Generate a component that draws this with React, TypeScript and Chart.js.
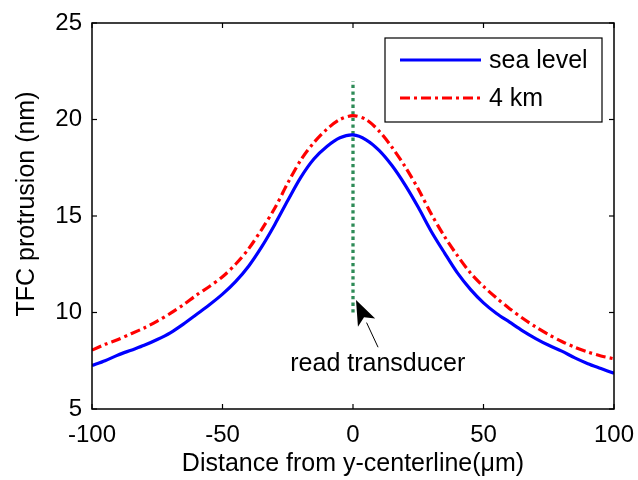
import React, { useEffect, useRef } from "react";
import { Chart, registerables } from "chart.js";

Chart.register(...registerables);

// ---- data ----
const xValues = [
  -100, -95, -90, -85, -80, -75, -70, -65, -60, -55, -50, -45, -40, -35, -30, -25, -20, -15, -10, -5,
  0, 5, 10, 15, 20, 25, 30, 35, 40, 45, 50, 55, 60, 65, 70, 75, 80, 85, 90, 95, 100,
];
const seaLevel = [
  7.25, 7.5, 7.8, 8.05, 8.3, 8.6, 8.95, 9.4, 9.9, 10.4, 10.95, 11.6, 12.4, 13.4, 14.55, 15.8, 17.0, 17.95, 18.6, 19.05,
  19.2, 18.95, 18.4, 17.6, 16.6, 15.45, 14.2, 13.1, 12.05, 11.2, 10.5, 9.95, 9.5, 9.05, 8.65, 8.3, 8.0, 7.65, 7.35, 7.1, 6.85,
];
const fourKm = [
  8.05, 8.35, 8.6, 8.9, 9.2, 9.55, 9.95, 10.4, 10.9, 11.35, 11.85, 12.5, 13.3, 14.3, 15.4, 16.7, 17.9, 18.8, 19.5, 20.0,
  20.2, 20.0, 19.4, 18.55, 17.55, 16.4, 15.1, 13.95, 12.95, 12.05, 11.35, 10.75, 10.2, 9.7, 9.25, 8.85, 8.5, 8.2, 7.95, 7.75, 7.6,
];
const markerX = [0, 0];
const markerY = [10, 22];
const xTicks = [-100, -50, 0, 50, 100];
const yTicks = [5, 10, 15, 20, 25];
const seriesLabels = ["sea level", "4 km"];
const xTitle = "Distance from y-centerline(μm)";
const yTitle = "TFC protrusion (nm)";
const annotationText = "read transducer";
const arrowTip = [1.15, 10.65];
const arrowTail = [9.6, 8.2];
const annotationPos = [9.5, 7.35];

const FONT = '"Liberation Sans", Arial, sans-serif';
const BLUE = "#0000ff";
const RED = "#ff0000";
const GREEN = "#2e8b57";
const RED_DASH = [10, 4, 3, 4];

const overlayPlugin = {
  id: "overlay",
  afterDraw(chart: any) {
    const { ctx, chartArea: a, scales } = chart;
    const xs = scales.x;
    const ys = scales.y;
    ctx.save();
    // frame
    ctx.strokeStyle = "#000";
    ctx.lineWidth = 1.5;
    ctx.setLineDash([]);
    ctx.strokeRect(a.left, a.top, a.right - a.left, a.bottom - a.top);
    // inward ticks
    ctx.lineWidth = 1.2;
    const seg = (x1: number, y1: number, x2: number, y2: number) => {
      ctx.beginPath();
      ctx.moveTo(x1, y1);
      ctx.lineTo(x2, y2);
      ctx.stroke();
    };
    for (const v of xTicks) {
      const p = xs.getPixelForValue(v);
      seg(p, a.bottom, p, a.bottom - 5);
      seg(p, a.top, p, a.top + 5);
    }
    for (const v of yTicks) {
      const p = ys.getPixelForValue(v);
      seg(a.left, p, a.left + 5, p);
      seg(a.right, p, a.right - 5, p);
    }
    // y title
    ctx.save();
    ctx.translate(27, (a.top + a.bottom) / 2 - 12);
    ctx.rotate(-Math.PI / 2);
    ctx.font = `25px ${FONT}`;
    ctx.fillStyle = "#000";
    ctx.textAlign = "center";
    ctx.textBaseline = "middle";
    ctx.fillText(yTitle, 0, 0);
    ctx.restore();
    // legend
    const bx = a.right - 229;
    const by = a.top + 15;
    const bw = 217;
    const bh = 84;
    ctx.fillStyle = "#fff";
    ctx.fillRect(bx, by, bw, bh);
    ctx.lineWidth = 1.2;
    ctx.strokeStyle = "#000";
    ctx.strokeRect(bx, by, bw, bh);
    const rows = [
      { y: by + 22, color: BLUE, dash: [] as number[], label: seriesLabels[0] },
      { y: by + 60, color: RED, dash: RED_DASH, label: seriesLabels[1] },
    ];
    ctx.font = `25px ${FONT}`;
    ctx.textAlign = "left";
    ctx.textBaseline = "middle";
    for (const r of rows) {
      ctx.strokeStyle = r.color;
      ctx.lineWidth = 3.2;
      ctx.setLineDash(r.dash);
      seg(bx + 15, r.y, bx + 96, r.y);
      ctx.setLineDash([]);
      ctx.fillStyle = "#000";
      ctx.fillText(r.label, bx + 104, r.y + 1);
    }
    // arrow
    const tx = xs.getPixelForValue(arrowTip[0]);
    const ty = ys.getPixelForValue(arrowTip[1]);
    const sx = xs.getPixelForValue(arrowTail[0]);
    const sy = ys.getPixelForValue(arrowTail[1]);
    const len = Math.hypot(tx - sx, ty - sy);
    const ux = (tx - sx) / len;
    const uy = (ty - sy) / len;
    const hx = tx - ux * 25;
    const hy = ty - uy * 25;
    const nx = -uy;
    const ny = ux;
    ctx.strokeStyle = "#000";
    ctx.lineWidth = 1;
    seg(sx, sy, hx, hy);
    ctx.fillStyle = "#000";
    ctx.beginPath();
    ctx.moveTo(tx, ty);
    ctx.lineTo(hx + nx * 9.5, hy + ny * 9.5);
    ctx.lineTo(tx - ux * 19, ty - uy * 19);
    ctx.lineTo(hx - nx * 9.5, hy - ny * 9.5);
    ctx.closePath();
    ctx.fill();
    // annotation text
    ctx.font = `25px ${FONT}`;
    ctx.textAlign = "center";
    ctx.textBaseline = "middle";
    ctx.fillText(annotationText, xs.getPixelForValue(annotationPos[0]), ys.getPixelForValue(annotationPos[1]));
    ctx.restore();
  },
};

export default function App() {
  const ref = useRef<HTMLCanvasElement | null>(null);
  useEffect(() => {
    if (!ref.current) return;
    const chart = new Chart(ref.current, {
      type: "line",
      data: {
        datasets: [
          {
            label: seriesLabels[0],
            data: xValues.map((x, i) => ({ x, y: seaLevel[i] })),
            borderColor: BLUE,
            borderWidth: 3.2,
            pointRadius: 0,
            tension: 0.3,
          },
          {
            label: seriesLabels[1],
            data: xValues.map((x, i) => ({ x, y: fourKm[i] })),
            borderColor: RED,
            borderWidth: 3.2,
            borderDash: RED_DASH,
            pointRadius: 0,
            tension: 0.3,
          },
          {
            label: "marker",
            data: markerX.map((x, i) => ({ x, y: markerY[i] })),
            borderColor: GREEN,
            borderWidth: 3.3,
            borderDash: [3.3, 3.3],
            borderCapStyle: "butt",
            pointRadius: 0,
          },
        ],
      },
      options: {
        responsive: false,
        animation: false,
        layout: { padding: { left: 0, right: 24, top: 23, bottom: 0 } },
        plugins: { legend: { display: false }, tooltip: { enabled: false } },
        scales: {
          x: {
            type: "linear",
            min: -100,
            max: 100,
            afterBuildTicks: (s: any) => {
              s.ticks = xTicks.map((v) => ({ value: v }));
            },
            afterFit: (s: any) => {
              s.height = 71;
              s.paddingLeft = 0;
              s.paddingRight = 0;
            },
            grid: { display: false, drawTicks: false },
            border: { display: false },
            ticks: { color: "#000", font: { family: FONT, size: 24 }, padding: 12, maxRotation: 0, autoSkip: false },
            title: {
              display: true,
              text: xTitle,
              color: "#000",
              font: { family: FONT, size: 25 },
              padding: { top: 0, bottom: 1 },
            },
          },
          y: {
            type: "linear",
            min: 5,
            max: 25,
            afterBuildTicks: (s: any) => {
              s.ticks = yTicks.map((v) => ({ value: v }));
            },
            afterFit: (s: any) => {
              s.width = 92;
              s.paddingTop = 0;
              s.paddingBottom = 0;
            },
            grid: { display: false, drawTicks: false },
            border: { display: false },
            ticks: { color: "#000", font: { family: FONT, size: 24 }, padding: 10 },
          },
        },
      },
      plugins: [overlayPlugin],
    });
    return () => chart.destroy();
  }, []);
  return (
    <div style={{ position: "absolute", left: 0, top: 0, width: 638, height: 480, background: "#fff" }}>
      <canvas ref={ref} width={638} height={480} style={{ display: "block" }} />
    </div>
  );
}
